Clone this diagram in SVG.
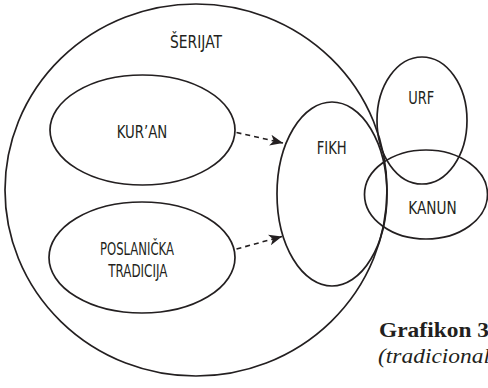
<svg xmlns="http://www.w3.org/2000/svg" width="488" height="388" viewBox="0 0 488 388">
  <style>
    .shape { fill: none; stroke: #231f20; stroke-width: 1.7; }
    .lbl { font-family: "DejaVu Sans Condensed", "Liberation Sans Narrow", "DejaVu Sans", sans-serif; font-size: 18.5px; fill: #231f20; }
    .link { fill: none; stroke: #231f20; stroke-width: 1.6; stroke-dasharray: 5 4; }
    .cap { font-family: "Liberation Serif", "DejaVu Serif", serif; fill: #231f20; }
  </style>
  <defs>
    <marker id="arrow" markerUnits="userSpaceOnUse" markerWidth="14" markerHeight="12" refX="13" refY="5.5" orient="auto">
      <path d="M0,0 L13,5.5 L0,11 L3.5,5.5 Z" fill="#231f20"/>
    </marker>
  </defs>

  <rect width="488" height="388" fill="#ffffff"/>

  <!-- outer set -->
  <g id="serijat">
    <ellipse class="shape" cx="196" cy="190" rx="191" ry="186"/>
    <text class="lbl" x="170" y="48.3" textLength="52" lengthAdjust="spacingAndGlyphs">ŠERIJAT</text>
  </g>

  <g id="kuran">
    <ellipse class="shape" cx="142.5" cy="130" rx="92.5" ry="55"/>
    <text class="lbl" x="116.7" y="138.3" textLength="50.6" lengthAdjust="spacingAndGlyphs">KUR’AN</text>
  </g>

  <g id="poslanicka-tradicija">
    <ellipse class="shape" cx="142" cy="257.5" rx="93" ry="55.5"/>
    <text class="lbl" x="100" y="255" textLength="74" lengthAdjust="spacingAndGlyphs">POSLANIČKA</text>
    <text class="lbl" x="108.3" y="276.7" textLength="59" lengthAdjust="spacingAndGlyphs">TRADICIJA</text>
  </g>

  <g id="fikh">
    <ellipse class="shape" cx="332" cy="194" rx="55" ry="92"/>
    <text class="lbl" x="316.7" y="154" textLength="30" lengthAdjust="spacingAndGlyphs">FIKH</text>
  </g>

  <g id="urf">
    <ellipse class="shape" cx="422" cy="120.5" rx="45" ry="63.5"/>
    <text class="lbl" x="408.3" y="104.3" textLength="26" lengthAdjust="spacingAndGlyphs">URF</text>
  </g>

  <g id="kanun">
    <ellipse class="shape" cx="426" cy="194.5" rx="61.5" ry="44.5"/>
    <text class="lbl" x="408.3" y="214" textLength="48.4" lengthAdjust="spacingAndGlyphs">KANUN</text>
  </g>

  <!-- connectors -->
  <g id="connectors">
    <path class="link" d="M236.5,132.5 L283,143" marker-end="url(#arrow)"/>
    <path class="link" d="M236.5,249 L282,236.5" marker-end="url(#arrow)"/>
  </g>

  <!-- caption -->
  <g id="caption">
    <text class="cap" x="379" y="336.7" font-size="21" font-weight="bold" textLength="110" lengthAdjust="spacingAndGlyphs">Grafikon 3</text>
    <text class="cap" x="378" y="363" font-size="21" font-style="italic" textLength="112" lengthAdjust="spacingAndGlyphs">(tradicional</text>
  </g>
</svg>
